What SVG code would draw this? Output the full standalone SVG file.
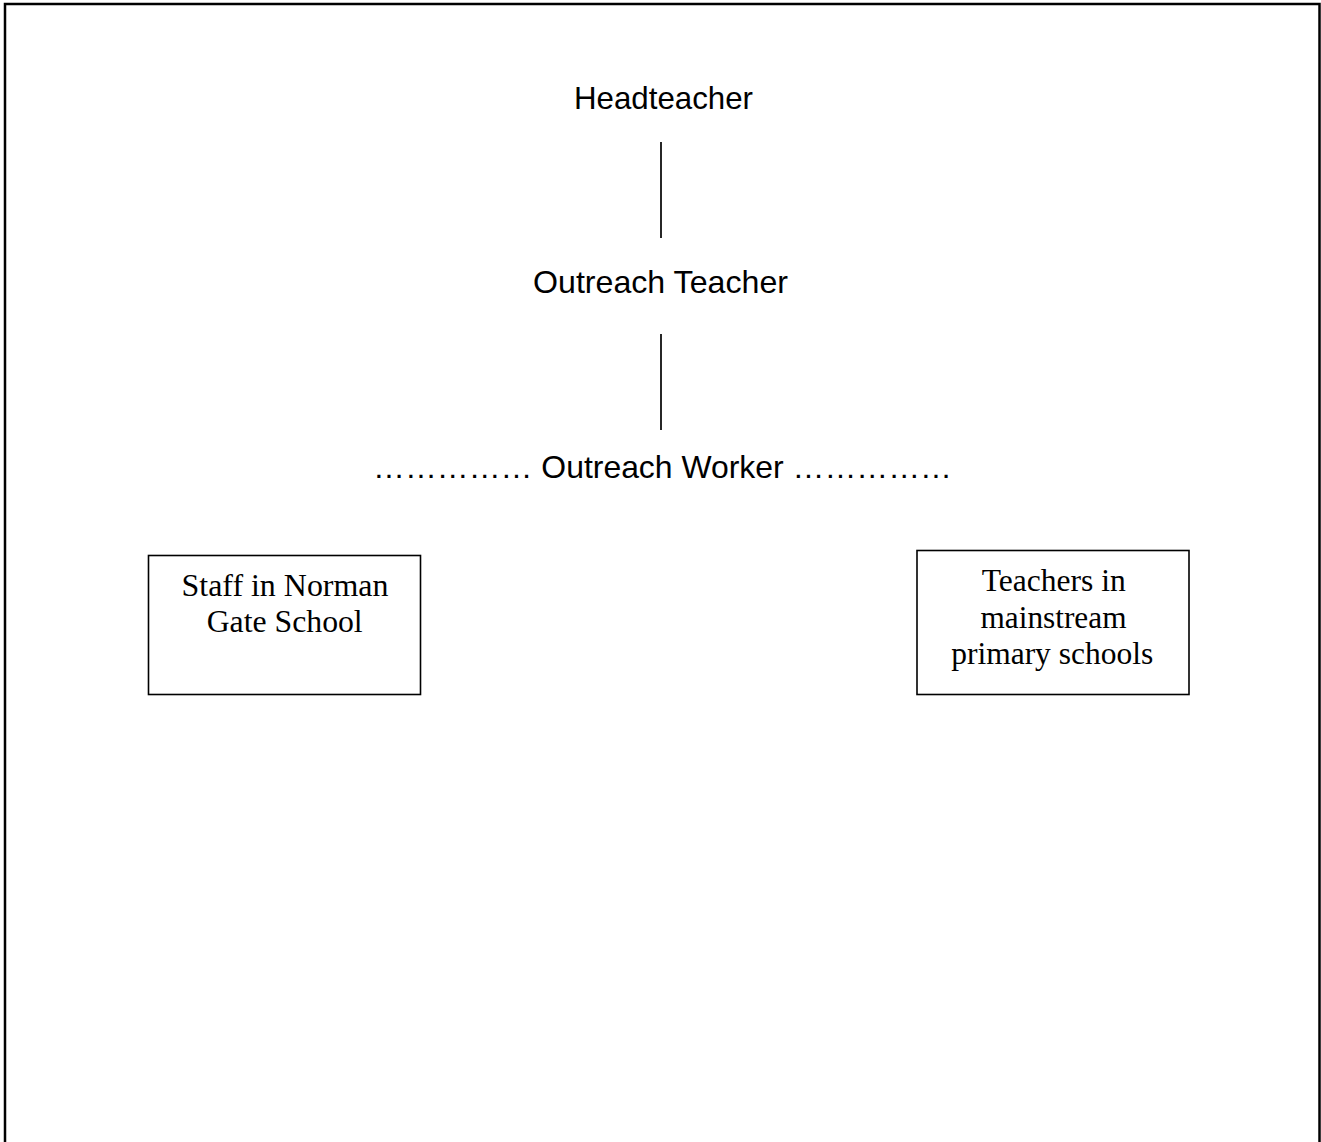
<svg xmlns="http://www.w3.org/2000/svg" width="1321" height="1142" viewBox="0 0 1321 1142">
<style>
.sans{font-family:"Liberation Sans",Arial,sans-serif;font-size:31.5px;fill:#000;text-anchor:middle}
.serif{font-family:"Liberation Serif","Times New Roman",serif;font-size:31.5px;fill:#000;text-anchor:middle}
.box{fill:#fff;stroke:#000;stroke-width:1.6}
.conn{stroke:#000;stroke-width:1.7;fill:none}
</style>
<rect x="0" y="0" width="1321" height="1142" fill="#fff"/>
<rect x="5" y="4" width="1314.5" height="1200" fill="none" stroke="#000" stroke-width="2.5"/>
<g id="connectors">
<line class="conn" x1="661" y1="142" x2="661" y2="238"/>
<line class="conn" x1="661" y1="334" x2="661" y2="430"/>
</g>
<g id="headteacher">
<text class="sans" x="663.5" y="108.5" textLength="179" lengthAdjust="spacingAndGlyphs">Headteacher</text>
</g>
<g id="outreach-teacher">
<text class="sans" x="660.5" y="293" textLength="255" lengthAdjust="spacingAndGlyphs">Outreach Teacher</text>
</g>
<g id="outreach-worker">
<text class="sans" x="662.5" y="478" textLength="579" lengthAdjust="spacingAndGlyphs">…………… Outreach Worker ……………</text>
</g>
<g id="staff-norman-gate">
<rect class="box" x="148.5" y="555.5" width="272" height="139"/>
<text class="serif" x="285" y="596" textLength="207" lengthAdjust="spacingAndGlyphs">Staff in Norman</text>
<text class="serif" x="284.7" y="632" textLength="156" lengthAdjust="spacingAndGlyphs">Gate School</text>
</g>
<g id="teachers-mainstream">
<rect class="box" x="917" y="550.5" width="272" height="144"/>
<text class="serif" x="1053.7" y="591" textLength="144" lengthAdjust="spacingAndGlyphs">Teachers in</text>
<text class="serif" x="1053.5" y="628" textLength="146" lengthAdjust="spacingAndGlyphs">mainstream</text>
<text class="serif" x="1052.2" y="664" textLength="202" lengthAdjust="spacingAndGlyphs">primary schools</text>
</g>
</svg>
